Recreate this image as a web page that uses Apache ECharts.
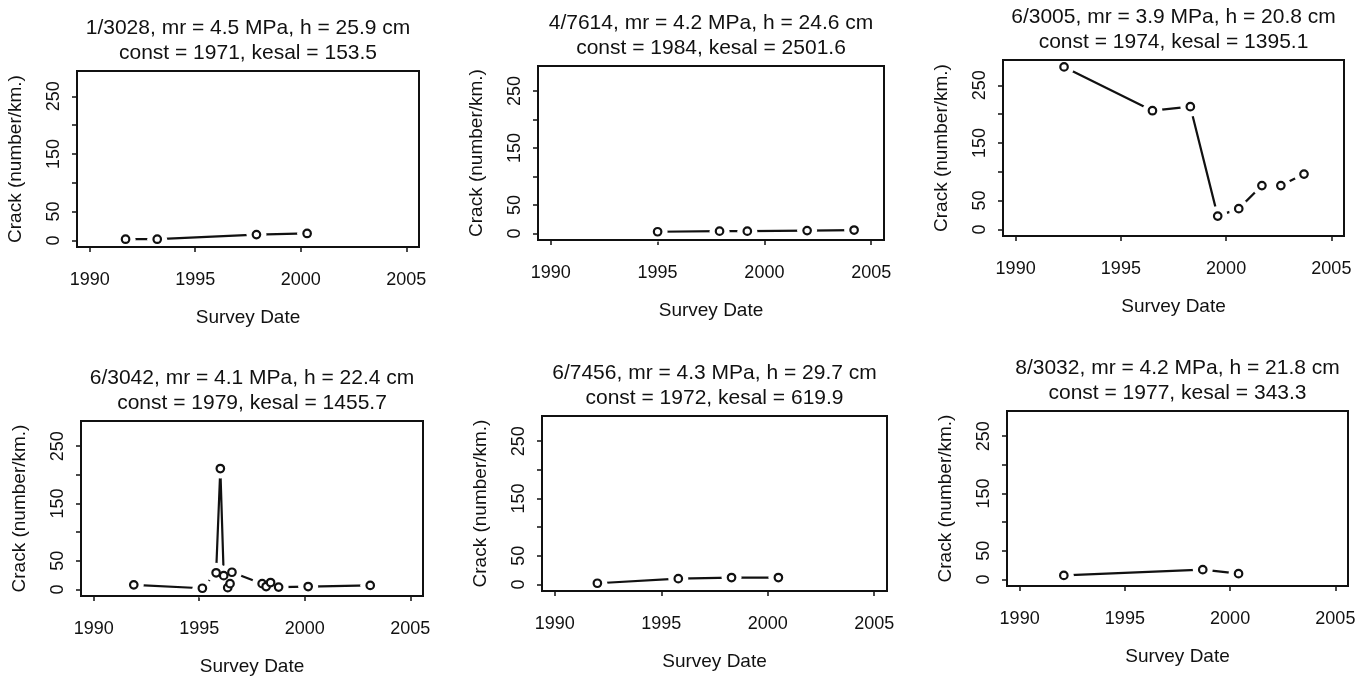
<!DOCTYPE html>
<html>
<head>
<meta charset="utf-8">
<script src="https://cdn.jsdelivr.net/npm/echarts@6/dist/echarts.min.js"></script>
<style>
  html, body { margin: 0; padding: 0; background: #fff; }
  #chart { width: 1369px; height: 677px; }
</style>
</head>
<body>
<div id="chart"></div>
<script>
// panel headers
const sections = ['1/3028', '4/7614', '6/3005', '6/3042', '6/7456', '8/3032'];
const mr = ['4.5', '4.2', '3.9', '4.1', '4.3', '4.2'];
const thickness = ['25.9', '24.6', '20.8', '22.4', '29.7', '21.8'];
const constYear = ['1971', '1984', '1974', '1979', '1972', '1977'];
const kesal = ['153.5', '2501.6', '1395.1', '1455.7', '619.9', '343.3'];

// survey dates and crack counts
const years1 = [1991.7, 1993.2, 1997.9, 2000.3];
const cracks1 = [2, 2, 10, 12];
const years2 = [1995.0, 1997.9, 1999.2, 2002.0, 2004.2];
const cracks2 = [3, 4, 4, 5, 6];
const years3 = [1992.3, 1996.5, 1998.3, 1999.6, 2000.6, 2001.7, 2002.6, 2003.7];
const cracks3 = [282, 206, 213, 23, 36, 76, 76, 96];
const years4 = [1991.9, 1995.15, 1995.8, 1996.0, 1996.16, 1996.35, 1996.46, 1996.55,
                1997.98, 1998.17, 1998.38, 1998.76, 2000.16, 2003.1];
const cracks4 = [8, 2, 29, 211, 24, 3, 10, 30, 10, 5, 12, 4, 5, 7];
const years5 = [1992.0, 1995.8, 1998.3, 2000.5];
const cracks5 = [2, 10, 12, 12];
const years6 = [1992.1, 1998.7, 2000.4];
const cracks6 = [7, 17, 10];

const xTicks = [1990, 1995, 2000, 2005];
const yTicks = [0, 50, 100, 150, 200, 250];
const yLabels = [0, 50, 150, 250];

const allYears = [years1, years2, years3, years4, years5, years6];
const allCracks = [cracks1, cracks2, cracks3, cracks4, cracks5, cracks6];

// plot boxes in pixels: left, top, width, height
const boxes = [
  [77, 71, 342, 176],
  [538, 66, 346, 174],
  [1003, 60, 341, 176],
  [81, 421, 342, 175],
  [542, 416, 345, 175],
  [1007, 411, 341, 175]
];

const FONT = "'Liberation Sans', Arial, sans-serif";
const INK = '#111';

const grids = [], xAxes = [], yAxes = [], series = [], texts = [];

boxes.forEach((b, i) => {
  grids.push({
    left: b[0], top: b[1], width: b[2], height: b[3],
    show: true, borderColor: INK, borderWidth: 2,
    backgroundColor: 'transparent', z: 10
  });

  xAxes.push({
    type: 'value', gridIndex: i, min: 1989.4, max: 2005.6,
    axisLine: { show: false, onZero: false },
    splitLine: { show: false },
    axisTick: { customValues: xTicks, length: 5, lineStyle: { color: INK, width: 1.5 } },
    axisLabel: {
      customValues: xTicks, formatter: v => String(v),
      fontSize: 18, fontFamily: FONT, color: INK, margin: 24
    },
    name: 'Survey Date', nameLocation: 'middle', nameGap: 61,
    nameTextStyle: { fontSize: 19, fontFamily: FONT, color: INK }
  });

  yAxes.push({
    type: 'value', gridIndex: i, min: -11.5, max: 294,
    axisLine: { show: false, onZero: false },
    splitLine: { show: false },
    axisTick: { customValues: yTicks, length: 5, lineStyle: { color: INK, width: 1.5 } },
    axisLabel: {
      customValues: yLabels, formatter: v => String(v), rotate: 90,
      fontSize: 18, fontFamily: FONT, color: INK, margin: 14
    },
    name: 'Crack (number/km.)', nameLocation: 'middle', nameGap: 52,
    nameTextStyle: { fontSize: 19, fontFamily: FONT, color: INK }
  });

  const pts = allYears[i].map((y, k) => [y, allCracks[i][k]]);

  series.push({
    type: 'line', xAxisIndex: i, yAxisIndex: i, data: pts,
    symbol: 'none', lineStyle: { color: INK, width: 2.2 }, z: 1, silent: true
  });
  // white halo so the segments stop short of the points, like R type = "b"
  series.push({
    type: 'scatter', xAxisIndex: i, yAxisIndex: i, data: pts,
    symbolSize: 20, itemStyle: { color: '#fff', opacity: 1 }, z: 2, silent: true
  });
  series.push({
    type: 'scatter', xAxisIndex: i, yAxisIndex: i, data: pts,
    symbolSize: 7.5, itemStyle: { color: '#fff', borderColor: INK, borderWidth: 2.2, opacity: 1 }, z: 3, silent: true
  });

  const cx = b[0] + b[2] / 2;
  const line1 = `${sections[i]}, mr = ${mr[i]} MPa, h = ${thickness[i]} cm`;
  const line2 = `const = ${constYear[i]}, kesal = ${kesal[i]}`;
  texts.push({
    type: 'text', x: cx, y: b[1] - 53,
    style: { text: line1, textAlign: 'center', textVerticalAlign: 'top', font: `21px ${FONT}`, fill: INK }
  });
  texts.push({
    type: 'text', x: cx, y: b[1] - 28,
    style: { text: line2, textAlign: 'center', textVerticalAlign: 'top', font: `21px ${FONT}`, fill: INK }
  });
});

const chart = echarts.init(document.getElementById('chart'));
chart.setOption({
  animation: false,
  backgroundColor: '#fff',
  grid: grids,
  xAxis: xAxes,
  yAxis: yAxes,
  series: series,
  graphic: texts
});
</script>
</body>
</html>
